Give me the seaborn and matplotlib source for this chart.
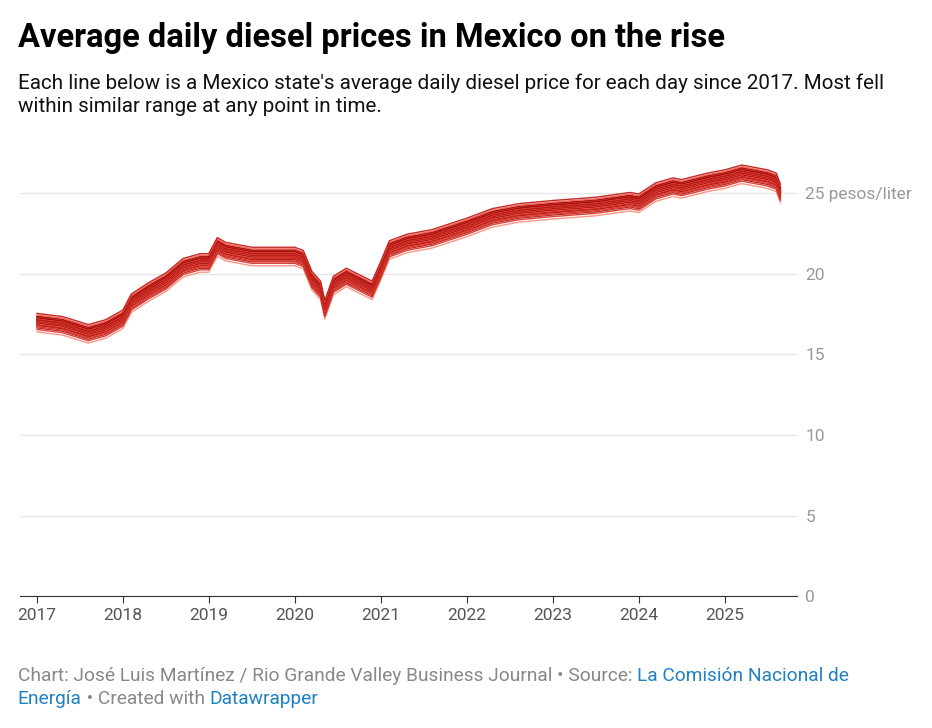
import numpy as np
import pandas as pd
import seaborn as sns
import matplotlib.pyplot as plt

# typical (median) state path
years = [2017.0, 2017.3, 2017.6, 2017.8, 2018.0, 2018.1, 2018.3, 2018.5, 2018.7, 2018.9,
         2019.0, 2019.1, 2019.2, 2019.5, 2019.8, 2020.0, 2020.1, 2020.2, 2020.3, 2020.35,
         2020.45, 2020.6, 2020.75, 2020.9, 2021.0, 2021.1, 2021.3, 2021.6, 2022.0, 2022.3,
         2022.6, 2023.0, 2023.5, 2023.9, 2024.0, 2024.2, 2024.4, 2024.5, 2024.8, 2025.0,
         2025.2, 2025.5, 2025.6, 2025.65]
median_price = [17.0, 16.8, 16.3, 16.6, 17.2, 18.2, 18.9, 19.5, 20.4, 20.7,
                20.7, 21.7, 21.4, 21.1, 21.1, 21.1, 20.9, 19.6, 19.0, 17.8,
                19.3, 19.8, 19.4, 19.0, 20.2, 21.5, 21.9, 22.2, 22.9, 23.5,
                23.8, 24.0, 24.2, 24.5, 24.4, 25.1, 25.4, 25.3, 25.7, 25.9,
                26.2, 25.9, 25.7, 25.0]
# each state's spread around the typical path
state_offsets = [-0.6, -0.45, -0.35, -0.3, -0.25, -0.22, -0.2, -0.17, -0.14, -0.11, -0.08,
                 -0.05, -0.03, 0.0, 0.0, 0.03, 0.05, 0.07, 0.09, 0.11, 0.13, 0.15, 0.17,
                 0.19, 0.21, 0.24, 0.27, 0.3, 0.34, 0.38, 0.45, 0.55]

rows = []
for i, off in enumerate(state_offsets):
    for yr, p in zip(years, median_price):
        rows.append({"state": i, "year": yr, "price": p + off})
df = pd.DataFrame(rows)

sns.set_style("white")
plt.rcParams['font.family'] = ['Roboto', 'DejaVu Sans']
fig = plt.figure(figsize=(9.32, 7.28), dpi=100)
ax = fig.add_axes([0.021, 0.181, 0.834, 0.62])

order = list(range(len(state_offsets)))
pal = sns.blend_palette(["#ff8a75", "#e8382a", "#b30f0f", "#8a0000"], len(order))
mix = [(k * 13) % len(order) for k in order]
sns.lineplot(data=df, x="year", y="price", hue="state", palette=[pal[j] for j in mix],
             lw=1.0, legend=False, ax=ax, alpha=0.9)

ax.set_xlim(2016.8, 2025.84)
ax.set_ylim(0, 28)
ax.set_yticks([0, 5, 10, 15, 20, 25])
ax.yaxis.tick_right()
ax.set_yticklabels(["0", "5", "10", "15", "20", "25 pesos/liter"], color="#999999", fontsize=12.5)
ax.grid(axis="y", color="#e6e6e6", lw=1)
ax.set_xticks(range(2017, 2026))
ax.set_xticklabels([str(y) for y in range(2017, 2026)], color="#555555", fontsize=12.5)
ax.tick_params(axis="x", length=5, color="#333333", bottom=True)
ax.tick_params(axis="y", length=0, pad=6)
for s in ["top", "left", "right"]:
    ax.spines[s].set_visible(False)
ax.spines["bottom"].set_color("#333333")
ax.set_xlabel("")
ax.set_ylabel("")

fig.text(0.019, 0.948, "Average daily diesel prices in Mexico on the rise", fontsize=23.5,
         fontweight="bold", va="center", color="black")
fig.text(0.019, 0.87, "Each line below is a Mexico state's average daily diesel price for each day since 2017. Most fell\nwithin similar range at any point in time.",
         fontsize=14.9, va="center", linespacing=1.3, color="#111111")

fig.canvas.draw()
r = fig.canvas.get_renderer()
def seg(x, y, s, c):
    t = fig.text(x, y, s, fontsize=13.8, color=c, va="center")
    return x + t.get_window_extent(r).width / fig.bbox.width

x = seg(0.019, 0.071, "Chart: José Luis Martínez / Rio Grande Valley Business Journal • Source: ", "#888888")
seg(x, 0.071, "La Comisión Nacional de", "#1d81c2")
x = seg(0.019, 0.040, "Energía", "#1d81c2")
x = seg(x, 0.040, " • Created with ", "#888888")
seg(x, 0.040, "Datawrapper", "#1d81c2")

fig.savefig("out.png", dpi=100)
